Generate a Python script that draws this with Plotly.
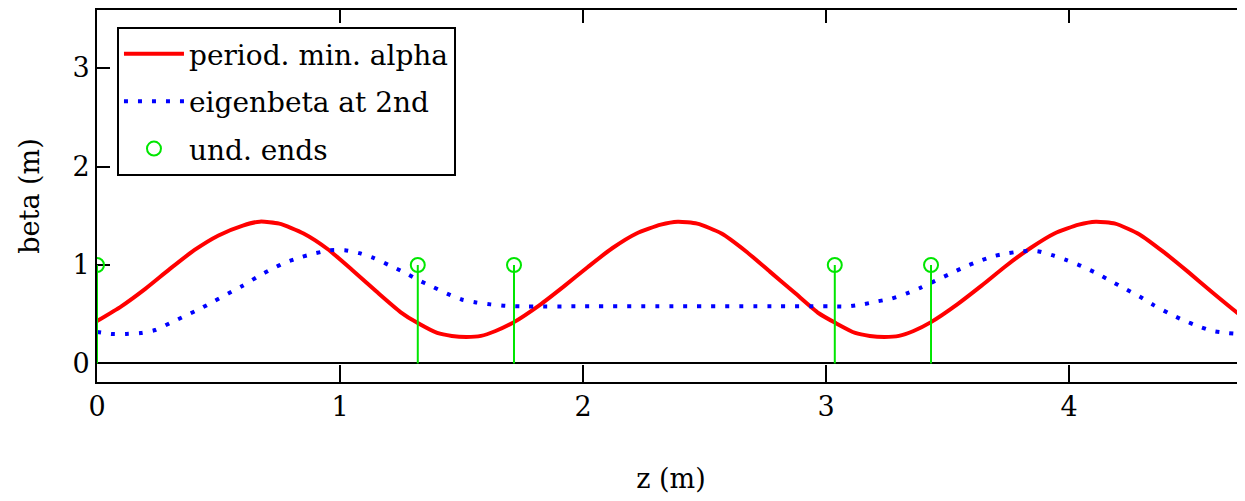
import plotly.graph_objects as go

# ---- data ----
z_red = [0.0, 0.1, 0.2, 0.3, 0.4, 0.5, 0.6, 0.67, 0.75, 0.85, 0.95, 1.05, 1.15, 1.25, 1.32, 1.40, 1.46, 1.52, 1.58, 1.64,
         1.716, 1.82, 1.92, 2.02, 2.12, 2.22, 2.32, 2.39, 2.47, 2.57, 2.67, 2.77, 2.87, 2.97, 3.04, 3.12, 3.18, 3.24, 3.30, 3.36,
         3.432, 3.54, 3.64, 3.74, 3.84, 3.94, 4.04, 4.11, 4.19, 4.29, 4.39, 4.49, 4.59, 4.69, 4.752]
beta_red = [0.43, 0.58, 0.76, 0.96, 1.15, 1.30, 1.40, 1.44, 1.42, 1.32, 1.16, 0.95, 0.73, 0.52, 0.41, 0.31, 0.28, 0.27, 0.28, 0.33,
            0.42, 0.59, 0.78, 0.98, 1.17, 1.32, 1.41, 1.44, 1.42, 1.32, 1.14, 0.93, 0.72, 0.51, 0.41, 0.31, 0.28, 0.27, 0.28, 0.33,
            0.42, 0.60, 0.79, 0.99, 1.17, 1.32, 1.41, 1.44, 1.42, 1.31, 1.13, 0.93, 0.72, 0.52, 0.42]

z_blue = [0.0, 0.06, 0.12, 0.18, 0.24, 0.30, 0.36, 0.42, 0.48, 0.54, 0.60, 0.66, 0.72, 0.78, 0.84, 0.90, 0.96, 1.02, 1.08,
          1.14, 1.20, 1.26, 1.32, 1.38, 1.44, 1.50, 1.56, 1.62, 1.68, 1.75, 2.0, 2.4, 2.8, 3.03, 3.09, 3.15, 3.21, 3.27,
          3.33, 3.39, 3.45, 3.51, 3.57, 3.63, 3.69, 3.75, 3.81, 3.87, 3.93, 3.99, 4.05, 4.11, 4.17, 4.23, 4.29, 4.35, 4.41,
          4.47, 4.53, 4.59, 4.65, 4.71, 4.752]
beta_blue = [0.32, 0.30, 0.30, 0.31, 0.34, 0.41, 0.48, 0.55, 0.63, 0.71, 0.79, 0.88, 0.96, 1.03, 1.08, 1.12, 1.15, 1.15, 1.12,
             1.07, 1.00, 0.93, 0.85, 0.78, 0.71, 0.65, 0.62, 0.60, 0.585, 0.58, 0.58, 0.58, 0.58, 0.58, 0.58, 0.60, 0.63, 0.66,
             0.71, 0.77, 0.84, 0.91, 0.98, 1.04, 1.09, 1.12, 1.14, 1.14, 1.10, 1.05, 0.99, 0.92, 0.84, 0.76, 0.68, 0.59, 0.51,
             0.44, 0.38, 0.33, 0.31, 0.30, 0.31]

und_ends = [0.0, 1.32, 1.716, 3.036, 3.432, 4.752]
und_height = [1.0, 1.0, 1.0, 1.0, 1.0, 1.0]

x_ticks = [0, 1, 2, 3, 4]
y_ticks = [0, 1, 2, 3]
x_range = [0, 4.724]
y_range = [-0.188, 3.589]

FONT = "DejaVu Serif"
GREEN = "rgb(0,230,0)"

fig = go.Figure()
fig.add_trace(go.Scatter(
    x=z_red, y=beta_red, mode="lines", name="period. min. alpha",
    line=dict(color="rgb(255,0,0)", width=4, shape="spline", smoothing=0.6),
    legendgroup="a"))
fig.add_trace(go.Scatter(
    x=z_blue, y=beta_blue, mode="lines", name="eigenbeta at 2nd",
    line=dict(color="rgb(0,0,255)", width=4, dash="4px,10px", shape="spline", smoothing=0.6),
    legendgroup="b"))
fig.add_trace(go.Scatter(
    x=und_ends, y=und_height, mode="markers", name="und. ends",
    marker=dict(symbol="circle-open", size=14, color=GREEN, line=dict(width=2, color=GREEN)),
    error_y=dict(type="data", symmetric=False, array=[0] * len(und_height), arrayminus=und_height,
                 width=0, thickness=2, color=GREEN),
    legendgroup="c"))
# invisible companion trace so the mirrored frame axes (top / right) are drawn
fig.add_trace(go.Scatter(x=[], y=[], xaxis="x2", yaxis="y2", showlegend=False, hoverinfo="skip"))

fig.update_layout(
    width=1237, height=493,
    margin=dict(l=89, r=0, t=2, b=119, autoexpand=False),
    paper_bgcolor="white", plot_bgcolor="white",
    font=dict(family=FONT, size=27, color="black"),
    showlegend=True,
    legend=dict(x=0.0174, y=0.954, xanchor="left", yanchor="top",
                bgcolor="white", bordercolor="black", borderwidth=2,
                font=dict(family=FONT, size=28, color="black"),
                itemwidth=60, traceorder="grouped", tracegroupgap=8),
    xaxis=dict(range=x_range, tickvals=x_ticks, ticktext=[str(v) for v in x_ticks],
               ticks="inside", ticklen=17, tickwidth=2, tickcolor="black",
               showline=True, linewidth=2, linecolor="black", showgrid=False, zeroline=False,
               ticklabelstandoff=0, layer="below traces", automargin=False,
               title=dict(text="z (m)", standoff=48, font=dict(family=FONT, size=27))),
    xaxis2=dict(range=x_range, overlaying="x", side="top", tickvals=x_ticks,
                ticks="inside", ticklen=13, tickwidth=2, tickcolor="black",
                showline=True, linewidth=2, linecolor="black", showgrid=False, zeroline=False,
                showticklabels=False, automargin=False),
    yaxis=dict(range=y_range, tickvals=y_ticks, ticktext=[str(v) for v in y_ticks],
               ticks="inside", ticklen=13, tickwidth=2, tickcolor="black",
               showline=True, linewidth=2, linecolor="black", showgrid=False,
               zeroline=True, zerolinecolor="black", zerolinewidth=2, layer="below traces",
               automargin=False,
               title=dict(text="beta (m)", standoff=25, font=dict(family=FONT, size=27))),
    yaxis2=dict(range=y_range, overlaying="y", side="right", tickvals=y_ticks,
                ticks="inside", ticklen=8, tickwidth=2, tickcolor="black",
                showline=False, showgrid=False, zeroline=False, showticklabels=False,
                automargin=False),
)

fig.write_html("out.html")
